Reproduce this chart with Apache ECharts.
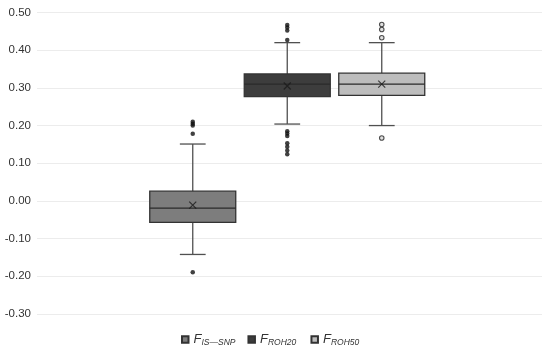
<!DOCTYPE html>
<html>
<head>
<meta charset="utf-8">
<script src="https://cdn.jsdelivr.net/npm/echarts@6/dist/echarts.min.js"></script>
<style>
  html, body { margin: 0; padding: 0; background: #fff; }
  #chart { width: 550px; height: 352px; }
</style>
</head>
<body>
<div id="chart"></div>
<script>
// groups and their legend subscripts
const groups = ['FIS_SNP', 'FROH20', 'FROH50']
const subLabels = ['IS—SNP', 'ROH20', 'ROH50']
const boxColors = ['#7d7d7d', '#3d3d3d', '#bdbdbd']
// [lower whisker, Q1, median, Q3, upper whisker]
const boxStats = [
  [-0.142, -0.057, -0.019, 0.026, 0.151],
  [0.204, 0.277, 0.310, 0.337, 0.420],
  [0.200, 0.280, 0.310, 0.339, 0.420]
]
const means = [-0.011, 0.305, 0.310]
const outliers = [
  [0.210, 0.205, 0.200, 0.178, -0.189],
  [0.467, 0.460, 0.452, 0.427, 0.185, 0.179, 0.172, 0.153, 0.144, 0.134, 0.124],
  [0.468, 0.455, 0.433, 0.167]
]

const chart = echarts.init(document.getElementById('chart'))

// draws one box with short whisker caps
function renderBox(params, api) {
  const x = api.value(0)
  const lo = api.coord([x, api.value(1)])
  const q1 = api.coord([x, api.value(2)])
  const med = api.coord([x, api.value(3)])
  const q3 = api.coord([x, api.value(4)])
  const hi = api.coord([x, api.value(5)])
  const bw = api.size([1, 0])[0] * 0.91
  const cap = bw * 0.15
  const cx = lo[0]
  const fill = api.visual('color')
  const wStyle = { stroke: '#505050', lineWidth: 1.3 }
  return {
    type: 'group',
    children: [
      { type: 'line', shape: { x1: cx, y1: q3[1], x2: cx, y2: hi[1] }, style: wStyle },
      { type: 'line', shape: { x1: cx, y1: q1[1], x2: cx, y2: lo[1] }, style: wStyle },
      { type: 'line', shape: { x1: cx - cap, y1: hi[1], x2: cx + cap, y2: hi[1] }, style: wStyle },
      { type: 'line', shape: { x1: cx - cap, y1: lo[1], x2: cx + cap, y2: lo[1] }, style: wStyle },
      {
        type: 'rect',
        shape: { x: cx - bw / 2, y: q3[1], width: bw, height: q1[1] - q3[1] },
        style: { fill: fill, stroke: '#333', lineWidth: 1.3 }
      },
      { type: 'line', shape: { x1: cx - bw / 2, y1: med[1], x2: cx + bw / 2, y2: med[1] }, style: { stroke: '#2a2a2a', lineWidth: 1.4 } }
    ]
  }
}

const boxSeries = groups.map((g, i) => ({
  name: g,
  type: 'custom',
  xAxisIndex: 1,
  yAxisIndex: 1,
  renderItem: renderBox,
  itemStyle: { color: boxColors[i], borderColor: '#333', borderWidth: 1 },
  encode: { x: 0, y: [1, 2, 3, 4, 5] },
  data: [[g].concat(boxStats[i])]
}))

const filledOut = []
const hollowOut = []
outliers.forEach((list, i) => {
  list.forEach(v => (i === 2 ? hollowOut : filledOut).push([groups[i], v]))
})

const option = {
  animation: false,
  grid: [
    { left: 37, right: 8, top: 12.5, bottom: 38 },
    { left: 145.5, right: 121, top: 12.5, bottom: 38 }
  ],
  xAxis: [
    { type: 'category', gridIndex: 0, data: [''], show: false },
    { type: 'category', gridIndex: 1, data: groups, show: false }
  ],
  yAxis: [
    {
      type: 'value', gridIndex: 0, min: -0.3, max: 0.5, interval: 0.1,
      axisLine: { show: false },
      axisTick: { show: false },
      axisLabel: {
        formatter: v => v.toFixed(2),
        fontFamily: 'Liberation Sans',
        fontSize: 11.5,
        color: '#333',
        margin: 6
      },
      splitLine: { lineStyle: { color: '#ececec', width: 1 } }
    },
    { type: 'value', gridIndex: 1, min: -0.3, max: 0.5, show: false }
  ],
  legend: {
    data: groups,
    left: 176,
    top: 326.5,
    icon: 'rect',
    itemWidth: 6.5,
    itemHeight: 6.5,
    itemGap: 12,
    formatter: name => {
      const i = groups.indexOf(name)
      // Excel leaves a wider gap after the second entry
      return '{f|F}{s|' + subLabels[i] + '}' + (i === 1 ? '{g| }' : '')
    },
    textStyle: {
      rich: {
        f: { fontSize: 13, fontStyle: 'italic', fontFamily: 'Liberation Sans', color: '#333', lineHeight: 16 },
        s: { fontSize: 8.5, fontStyle: 'italic', fontFamily: 'Liberation Sans', color: '#333', padding: [7, 0, 0, 0], lineHeight: 16 },
        g: { width: 12, fontSize: 8 }
      }
    }
  },
  series: boxSeries.concat([
    {
      name: 'outliers',
      type: 'scatter',
      xAxisIndex: 1,
      yAxisIndex: 1,
      symbol: 'circle',
      symbolSize: 4.5,
      itemStyle: { color: '#111' },
      data: filledOut
    },
    {
      name: 'outliers hollow',
      type: 'scatter',
      xAxisIndex: 1,
      yAxisIndex: 1,
      symbol: 'circle',
      symbolSize: 4.5,
      itemStyle: { color: '#d8d8d8', borderColor: '#222', borderWidth: 1.1 },
      data: hollowOut
    },
    {
      name: 'mean',
      type: 'scatter',
      xAxisIndex: 1,
      yAxisIndex: 1,
      symbol: 'path://M0,0L10,10M10,0L0,10',
      symbolSize: 7,
      itemStyle: { color: 'none', borderColor: '#1a1a1a', borderWidth: 1.2 },
      data: means.map((m, i) => [groups[i], m])
    }
  ])
}
chart.setOption(option)
</script>
</body>
</html>
